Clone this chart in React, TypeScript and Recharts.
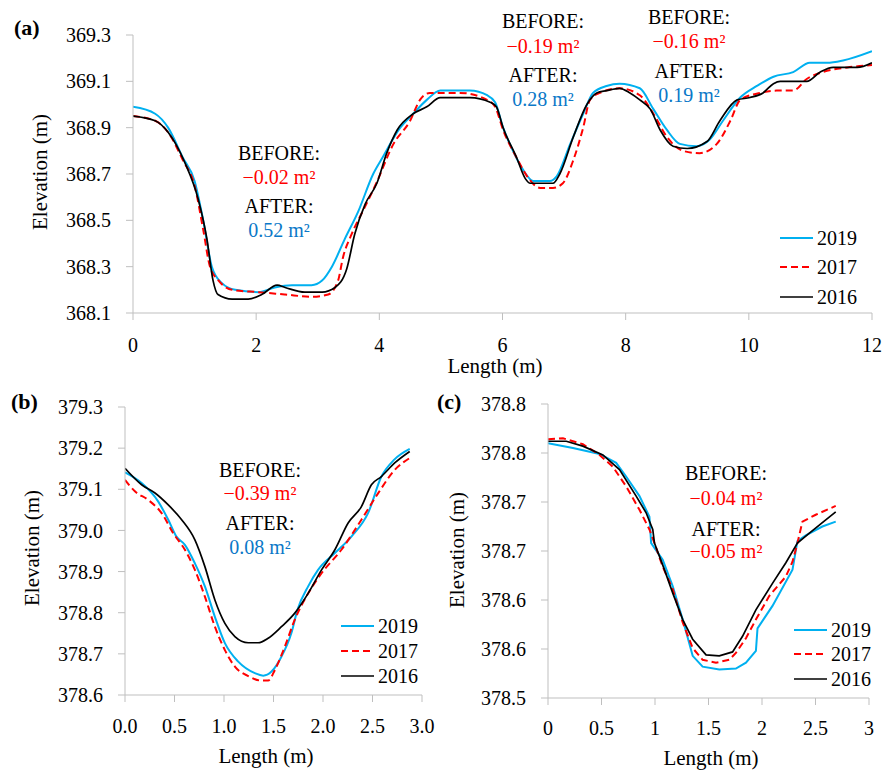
import { LineChart, Line, XAxis, YAxis, Legend, Label } from "recharts";

const FONT = "'Liberation Serif', 'Times New Roman', serif";
const BLUE = "#00b0f0";
const RED = "#ff0000";
const BLACK = "#000000";
const AXIS = "#bfbfbf";
const TEXT_BLUE = "#0a78c8";

// ---- panel (a) ----
const aX2019 = [0, 0.36, 0.57, 0.81, 1.0, 1.14, 1.28, 1.44, 1.66, 2.04, 2.3, 2.58, 2.9, 3.07, 3.23, 3.44, 3.66, 3.9, 4.05, 4.34, 4.55, 4.77, 4.99, 5.47, 5.75, 5.88, 6.01, 6.17, 6.33, 6.5, 6.77, 6.88, 7.1, 7.31, 7.47, 7.69, 7.9, 8.23, 8.45, 8.67, 8.88, 9.15, 9.37, 9.58, 9.86, 10.13, 10.4, 10.72, 10.99, 11.27, 11.53, 12];
const aY2019 = [368.99, 368.96, 368.9, 368.77, 368.67, 368.5, 368.3, 368.23, 368.2, 368.19, 368.21, 368.22, 368.22, 368.24, 368.3, 368.42, 368.54, 368.7, 368.77, 368.9, 368.96, 369.02, 369.06, 369.06, 369.04, 369.01, 368.9, 368.8, 368.72, 368.67, 368.67, 368.69, 368.83, 368.96, 369.05, 369.08, 369.09, 369.07, 368.98, 368.89, 368.83, 368.82, 368.85, 368.93, 369.03, 369.08, 369.12, 369.14, 369.18, 369.18, 369.19, 369.23];

const aX2017 = [0, 0.36, 0.57, 0.81, 1.0, 1.14, 1.25, 1.39, 1.61, 2.04, 2.47, 2.9, 3.17, 3.33, 3.41, 3.55, 3.77, 3.95, 4.23, 4.5, 4.66, 4.82, 5.31, 5.75, 5.88, 6.01, 6.23, 6.4, 6.61, 6.82, 6.98, 7.15, 7.31, 7.42, 7.58, 7.9, 8.23, 8.45, 8.67, 8.93, 9.2, 9.48, 9.7, 9.86, 10.18, 10.45, 10.72, 10.94, 11.2, 11.6, 12];
const aY2017 = [368.95, 368.93, 368.88, 368.76, 368.65, 368.46, 368.3, 368.24, 368.2, 368.19, 368.18, 368.17, 368.18, 368.24, 368.34, 368.44, 368.56, 368.66, 368.83, 368.93, 369.02, 369.05, 369.05, 369.02, 368.99, 368.89, 368.77, 368.69, 368.64, 368.64, 368.66, 368.76, 368.9, 369.02, 369.05, 369.07, 369.04, 368.96, 368.86, 368.8, 368.79, 368.83, 368.93, 369.02, 369.05, 369.06, 369.06, 369.11, 369.14, 369.16, 369.17];

const aX2016 = [0, 0.36, 0.57, 0.84, 1.06, 1.2, 1.3, 1.38, 1.61, 1.87, 2.09, 2.34, 2.47, 2.79, 3.07, 3.28, 3.47, 3.6, 3.77, 3.96, 4.12, 4.29, 4.55, 4.77, 4.99, 5.47, 5.8, 5.9, 6.01, 6.23, 6.37, 6.45, 6.82, 6.93, 7.15, 7.37, 7.53, 7.69, 7.9, 8.07, 8.23, 8.4, 8.56, 8.77, 9.0, 9.32, 9.53, 9.81, 10.02, 10.23, 10.4, 10.51, 10.94, 11.16, 11.37, 11.76, 12];
const aY2016 = [368.95, 368.93, 368.88, 368.75, 368.59, 368.42, 368.24, 368.18, 368.16, 368.16, 368.18, 368.22, 368.21, 368.19, 368.19, 368.21, 368.29, 368.44, 368.57, 368.66, 368.79, 368.89, 368.96, 368.99, 369.03, 369.03, 369.01, 368.99, 368.9, 368.77, 368.68, 368.66, 368.66, 368.7, 368.86, 369.0, 369.05, 369.06, 369.07, 369.05, 369.02, 368.98, 368.89, 368.82, 368.81, 368.84, 368.93, 369.02, 369.03, 369.05, 369.09, 369.1, 369.1, 369.14, 369.16, 369.16, 369.18];

const aXTicks = [0, 2, 4, 6, 8, 10, 12];
const aXTickLabels = ["0", "2", "4", "6", "8", "10", "12"];
const aYTicks = [368.1, 368.3, 368.5, 368.7, 368.9, 369.1, 369.3];
const aYTickLabels = ["368.1", "368.3", "368.5", "368.7", "368.9", "369.1", "369.3"];

// ---- panel (b) ----
const bX2019 = [0, 0.168, 0.336, 0.437, 0.52, 0.605, 0.706, 0.807, 0.908, 1.009, 1.144, 1.312, 1.396, 1.48, 1.58, 1.68, 1.742, 1.85, 1.95, 2.12, 2.287, 2.455, 2.59, 2.72, 2.876];
const bY2019 = [379.141, 379.115, 379.07, 379.026, 378.985, 378.965, 378.92, 378.864, 378.79, 378.726, 378.681, 378.653, 378.647, 378.657, 378.693, 378.75, 378.807, 378.864, 378.904, 378.945, 378.985, 379.042, 379.131, 379.172, 379.198];

const bX2017 = [0, 0.1, 0.235, 0.37, 0.488, 0.605, 0.706, 0.807, 0.908, 1.009, 1.11, 1.245, 1.379, 1.446, 1.514, 1.615, 1.715, 1.85, 1.985, 2.186, 2.388, 2.556, 2.724, 2.876];
const bY2017 = [379.123, 379.095, 379.074, 379.042, 378.993, 378.953, 378.904, 378.839, 378.766, 378.709, 378.669, 378.646, 378.635, 378.635, 378.661, 378.718, 378.783, 378.847, 378.896, 378.953, 379.026, 379.09, 379.147, 379.176];

const bX2016 = [0, 0.168, 0.303, 0.437, 0.572, 0.706, 0.807, 0.908, 1.009, 1.11, 1.245, 1.345, 1.446, 1.58, 1.715, 1.85, 1.985, 2.12, 2.254, 2.388, 2.489, 2.59, 2.724, 2.876];
const bY2016 = [379.151, 379.111, 379.091, 379.062, 379.026, 378.977, 378.912, 378.831, 378.774, 378.742, 378.727, 378.727, 378.738, 378.766, 378.799, 378.847, 378.904, 378.953, 379.018, 379.058, 379.111, 379.131, 379.164, 379.192];

const bXTicks = [0, 0.5, 1, 1.5, 2, 2.5, 3];
const bXTickLabels = ["0.0", "0.5", "1.0", "1.5", "2.0", "2.5", "3.0"];
const bYTicks = [378.6, 378.7, 378.8, 378.9, 379.0, 379.1, 379.2, 379.3];
const bYTickLabels = ["378.6", "378.7", "378.8", "378.9", "379.0", "379.1", "379.2", "379.3"];

// ---- panel (c) ----
const cX2019 = [0, 0.233, 0.482, 0.637, 0.73, 0.855, 0.948, 0.964, 1.072, 1.166, 1.259, 1.352, 1.445, 1.601, 1.756, 1.85, 1.943, 1.958, 2.098, 2.285, 2.331, 2.409, 2.564, 2.689];
const cY2019 = [378.76, 378.755, 378.749, 378.74, 378.726, 378.706, 378.685, 378.658, 378.641, 378.614, 378.58, 378.543, 378.532, 378.529, 378.53, 378.536, 378.548, 378.571, 378.594, 378.631, 378.66, 378.666, 378.675, 378.68];

const cX2017 = [0, 0.14, 0.326, 0.482, 0.606, 0.73, 0.855, 0.948, 0.995, 1.072, 1.166, 1.259, 1.352, 1.445, 1.57, 1.694, 1.756, 1.85, 1.943, 2.067, 2.223, 2.285, 2.331, 2.378, 2.502, 2.689];
const cY2017 = [378.764, 378.765, 378.759, 378.748, 378.736, 378.716, 378.692, 378.672, 378.658, 378.634, 378.611, 378.577, 378.551, 378.539, 378.536, 378.539, 378.546, 378.561, 378.58, 378.604, 378.624, 378.639, 378.658, 378.68, 378.687, 378.696];

const cX2016 = [0, 0.171, 0.326, 0.513, 0.668, 0.824, 0.917, 0.979, 0.995, 1.088, 1.166, 1.259, 1.352, 1.477, 1.601, 1.725, 1.818, 1.943, 2.098, 2.223, 2.331, 2.44, 2.564, 2.689];
const cY2016 = [378.762, 378.762, 378.757, 378.748, 378.733, 378.706, 378.689, 378.672, 378.658, 378.631, 378.607, 378.58, 378.56, 378.544, 378.543, 378.547, 378.563, 378.59, 378.617, 378.638, 378.658, 378.668, 378.679, 378.69];

const cXTicks = [0, 0.5, 1, 1.5, 2, 2.5, 3];
const cXTickLabels = ["0", "0.5", "1", "1.5", "2", "2.5", "3"];
const cYTicks = [378.5, 378.55, 378.6, 378.65, 378.7, 378.75, 378.8];
const cYTickLabels = ["378.5", "378.6", "378.6", "378.7", "378.7", "378.8", "378.8"];

const years = ["2019", "2017", "2016"];

const pts = (xs: number[], ys: number[]) => xs.map((x, i) => ({ x, y: ys[i] }));

const styles = [
  { color: BLUE, width: 2, dash: undefined as string | undefined },
  { color: RED, width: 2, dash: "7 4" },
  { color: BLACK, width: 1.7, dash: undefined as string | undefined },
];

function LegendBox({ rowH }: { rowH: number }) {
  return (
    <div style={{ fontFamily: FONT, fontSize: 20, color: "#000" }}>
      {years.map((y, i) => (
        <div key={y} style={{ display: "flex", alignItems: "center", height: rowH }}>
          <svg width={33} height={4} style={{ marginRight: 4 }}>
            <line x1={0} y1={2} x2={33} y2={2} stroke={styles[i].color} strokeWidth={styles[i].width} strokeDasharray={styles[i].dash} />
          </svg>
          <span style={{ lineHeight: 1 }}>{y}</span>
        </div>
      ))}
    </div>
  );
}

type PanelProps = {
  left: number;
  top: number;
  width: number;
  height: number;
  margin: { top: number; right: number; left: number; bottom: number };
  yWidth: number;
  xHeight: number;
  xTickMargin: number;
  xDomain: [number, number];
  xTicks: number[];
  xLabels: string[];
  yDomain: [number, number];
  yTicks: number[];
  yLabels: string[];
  data: { x: number; y: number }[][];
  lineType: "monotone" | "linear";
  xTitle: { x: number; y: number };
  yTitle: { x: number; y: number };
  legend: { left: number; top: number; rowH: number };
};

function Panel(p: PanelProps) {
  return (
    <div style={{ position: "absolute", left: p.left, top: p.top }}>
      <LineChart width={p.width} height={p.height} margin={p.margin} style={{ fontFamily: FONT }}>
        <XAxis
          type="number"
          dataKey="x"
          domain={p.xDomain}
          ticks={p.xTicks}
          interval={0}
          tickFormatter={(v: number) => p.xLabels[p.xTicks.indexOf(v)]}
          height={p.xHeight}
          tickSize={7}
          tickMargin={p.xTickMargin}
          axisLine={{ stroke: AXIS }}
          tickLine={{ stroke: AXIS }}
          tick={{ fontSize: 20, fill: "#000", fontFamily: FONT }}
          allowDataOverflow
        >
          <Label
            content={() => (
              <text x={p.xTitle.x} y={p.xTitle.y} textAnchor="middle" fontSize={21} fill="#000" fontFamily={FONT}>
                Length (m)
              </text>
            )}
          />
        </XAxis>
        <YAxis
          type="number"
          domain={p.yDomain}
          ticks={p.yTicks}
          interval={0}
          tickFormatter={(v: number) => p.yLabels[p.yTicks.indexOf(v)]}
          width={p.yWidth}
          tickSize={7}
          tickMargin={15}
          axisLine={{ stroke: AXIS }}
          tickLine={{ stroke: AXIS }}
          tick={{ fontSize: 20, fill: "#000", fontFamily: FONT }}
          allowDataOverflow
        >
          <Label
            content={() => (
              <text
                x={p.yTitle.x}
                y={p.yTitle.y}
                transform={`rotate(-90 ${p.yTitle.x} ${p.yTitle.y})`}
                textAnchor="middle"
                fontSize={21}
                fill="#000"
                fontFamily={FONT}
              >
                Elevation (m)
              </text>
            )}
          />
        </YAxis>
        {p.data.map((d, i) => (
          <Line
            key={years[i]}
            data={d}
            dataKey="y"
            name={years[i]}
            type={p.lineType}
            stroke={styles[i].color}
            strokeWidth={styles[i].width}
            strokeDasharray={styles[i].dash}
            dot={false}
            activeDot={false}
            isAnimationActive={false}
          />
        ))}
        <Legend
          layout="horizontal"
          align="center"
          verticalAlign="middle"
          wrapperStyle={{ left: p.legend.left, top: p.legend.top, width: 90, height: p.legend.rowH * 3 }}
          content={() => <LegendBox rowH={p.legend.rowH} />}
        />
      </LineChart>
    </div>
  );
}

type Note = { cx: number; lines: { text: string; color: string; y: number }[] };

const notes: Note[] = [
  {
    cx: 279,
    lines: [
      { text: "BEFORE:", color: "#000", y: 160 },
      { text: "\u22120.02 m\u00b2", color: RED, y: 184 },
      { text: "AFTER:", color: "#000", y: 213 },
      { text: "0.52 m\u00b2", color: TEXT_BLUE, y: 237 },
    ],
  },
  {
    cx: 543,
    lines: [
      { text: "BEFORE:", color: "#000", y: 28 },
      { text: "\u22120.19 m\u00b2", color: RED, y: 53 },
      { text: "AFTER:", color: "#000", y: 82 },
      { text: "0.28 m\u00b2", color: TEXT_BLUE, y: 106 },
    ],
  },
  {
    cx: 689,
    lines: [
      { text: "BEFORE:", color: "#000", y: 24 },
      { text: "\u22120.16 m\u00b2", color: RED, y: 48 },
      { text: "AFTER:", color: "#000", y: 78 },
      { text: "0.19 m\u00b2", color: TEXT_BLUE, y: 102 },
    ],
  },
  {
    cx: 260,
    lines: [
      { text: "BEFORE:", color: "#000", y: 477 },
      { text: "\u22120.39 m\u00b2", color: RED, y: 500 },
      { text: "AFTER:", color: "#000", y: 530 },
      { text: "0.08 m\u00b2", color: TEXT_BLUE, y: 554 },
    ],
  },
  {
    cx: 726,
    lines: [
      { text: "BEFORE:", color: "#000", y: 480 },
      { text: "\u22120.04 m\u00b2", color: RED, y: 505 },
      { text: "AFTER:", color: "#000", y: 536 },
      { text: "\u22120.05 m\u00b2", color: RED, y: 558 },
    ],
  },
];

export default function App() {
  return (
    <div style={{ position: "absolute", left: 0, top: 0, width: 886, height: 772, background: "#fff", fontFamily: FONT }}>
      <Panel
        left={0}
        top={0}
        width={886}
        height={380}
        margin={{ top: 35, right: 14, left: 0, bottom: 0 }}
        yWidth={133}
        xHeight={67}
        xTickMargin={18}
        xDomain={[0, 12]}
        xTicks={aXTicks}
        xLabels={aXTickLabels}
        yDomain={[368.1, 369.3]}
        yTicks={aYTicks}
        yLabels={aYTickLabels}
        data={[pts(aX2019, aY2019), pts(aX2017, aY2017), pts(aX2016, aY2016)]}
        lineType="monotone"
        xTitle={{ x: 495, y: 373 }}
        yTitle={{ x: 47, y: 172 }}
        legend={{ left: 780, top: 223, rowH: 29.5 }}
      />
      <Panel
        left={0}
        top={380}
        width={443}
        height={392}
        margin={{ top: 27, right: 21, left: 0, bottom: 0 }}
        yWidth={125}
        xHeight={77}
        xTickMargin={17}
        xDomain={[0, 3]}
        xTicks={bXTicks}
        xLabels={bXTickLabels}
        yDomain={[378.6, 379.3]}
        yTicks={bYTicks}
        yLabels={bYTickLabels}
        data={[pts(bX2019, bY2019), pts(bX2017, bY2017), pts(bX2016, bY2016)]}
        lineType="monotone"
        xTitle={{ x: 266, y: 383 }}
        yTitle={{ x: 39, y: 168 }}
        legend={{ left: 341, top: 233.5, rowH: 25 }}
      />
      <Panel
        left={443}
        top={380}
        width={443}
        height={392}
        margin={{ top: 24, right: 17, left: 0, bottom: 0 }}
        yWidth={105}
        xHeight={74}
        xTickMargin={16}
        xDomain={[0, 3]}
        xTicks={cXTicks}
        xLabels={cXTickLabels}
        yDomain={[378.5, 378.8]}
        yTicks={cYTicks}
        yLabels={cYTickLabels}
        data={[pts(cX2019, cY2019), pts(cX2017, cY2017), pts(cX2016, cY2016)]}
        lineType="linear"
        xTitle={{ x: 268, y: 385 }}
        yTitle={{ x: 21, y: 170 }}
        legend={{ left: 351, top: 237.5, rowH: 24.5 }}
      />
      <svg width={886} height={772} style={{ position: "absolute", left: 0, top: 0, pointerEvents: "none" }}>
        <text x={14} y={35} fontSize={22} fontWeight="bold" fill="#000" fontFamily={FONT}>(a)</text>
        <text x={11} y={409} fontSize={22} fontWeight="bold" fill="#000" fontFamily={FONT}>(b)</text>
        <text x={437} y={409} fontSize={22} fontWeight="bold" fill="#000" fontFamily={FONT}>(c)</text>
        {notes.map((n, i) =>
          n.lines.map((l, j) => (
            <text key={`${i}-${j}`} x={n.cx} y={l.y} textAnchor="middle" fontSize={20} fill={l.color} fontFamily={FONT}>
              {l.text}
            </text>
          ))
        )}
      </svg>
    </div>
  );
}
